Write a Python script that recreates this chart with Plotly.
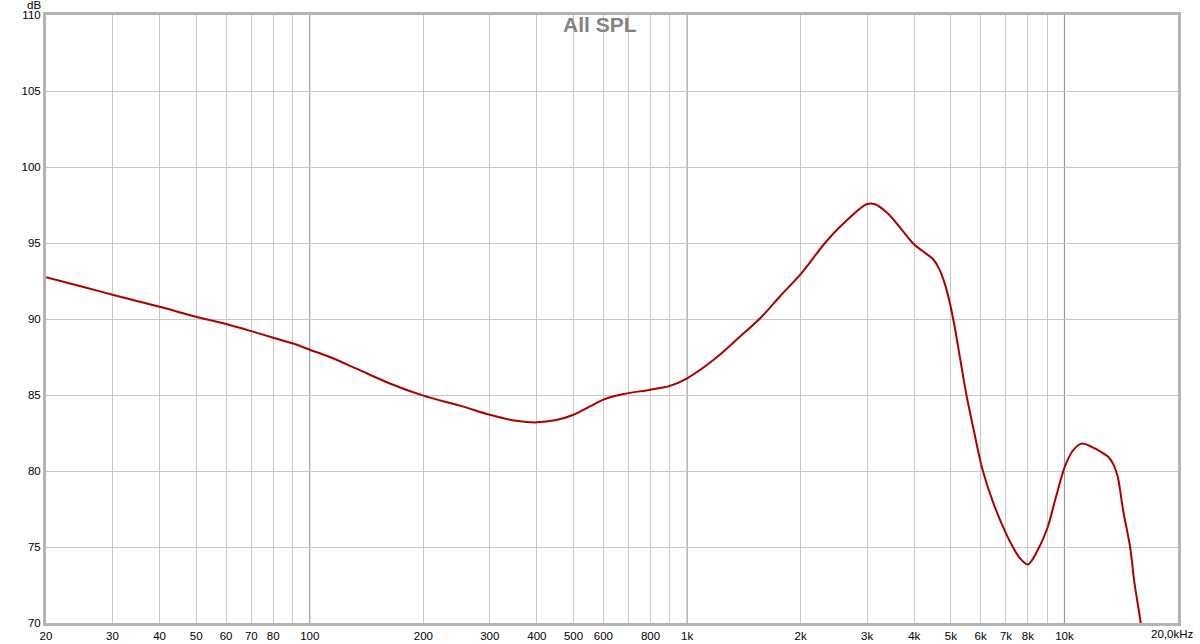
import plotly.graph_objects as go

# Frequency response data (Hz, dB)
freq_hz = [20, 25, 30, 40, 50, 60, 70, 80, 90, 100, 113, 133, 163, 200, 250, 300, 353, 400,
           450, 500, 553, 600, 678, 800, 900, 1000, 1174, 1382, 1565, 1764, 2000, 2320, 2600,
           3000, 3150, 3400, 3700, 4000, 4300, 4500, 4650, 4800, 4950, 5100, 5300, 5500, 5750,
           6050, 6500, 7000, 7300, 7600, 8000, 8500, 9000, 9500, 10000, 10500, 11100, 12000,
           12460, 13100, 13510, 13850, 14310, 14930, 15340, 15910, 16200]
spl_db = [92.75, 92.12, 91.6, 90.8, 90.15, 89.67, 89.2, 88.77, 88.4, 87.98, 87.5, 86.73, 85.76,
          84.96, 84.3, 83.7, 83.3, 83.2, 83.35, 83.7, 84.25, 84.7, 85.06, 85.35, 85.6, 86.1,
          87.3, 88.85, 90.07, 91.5, 92.95, 95.0, 96.3, 97.57, 97.55, 96.95, 95.9, 94.9, 94.3,
          93.9, 93.33, 92.46, 91.25, 89.7, 87.3, 85.0, 82.7, 80.2, 77.8, 75.9, 75.0, 74.3,
          73.85, 74.8, 76.2, 78.3, 80.2, 81.3, 81.8, 81.5, 81.27, 80.9, 80.39, 79.6, 77.4,
          75.0, 72.6, 70.1, 68.5]

title_text = "All SPL"
y_unit = "dB"

x_tick_vals = [20, 30, 40, 50, 60, 70, 80, 100, 200, 300, 400, 500, 600, 800, 1000,
               2000, 3000, 4000, 5000, 6000, 7000, 8000, 10000]
x_tick_text = ["20", "30", "40", "50", "60", "70", "80", "100", "200", "300", "400", "500",
               "600", "800", "1k", "2k", "3k", "4k", "5k", "6k", "7k", "8k", "10k"]
x_end_label = "20,0kHz"
x_grid_vals = [30, 40, 50, 60, 70, 80, 90, 200, 300, 400, 500, 600, 700, 800, 900,
               2000, 3000, 4000, 5000, 6000, 7000, 8000, 9000]
x_decades = [100, 1000, 10000]
y_tick_vals = [70, 75, 80, 85, 90, 95, 100, 105, 110]
y_tick_text = ["70", "75", "80", "85", "90", "95", "100", "105", "110"]

FONT = "Liberation Sans, Arial"

fig = go.Figure()
fig.add_trace(go.Scatter(
    x=freq_hz, y=spl_db, mode="lines",
    line=dict(color="#aa0000", width=2, shape="spline", smoothing=0.9),
    cliponaxis=True, showlegend=False,
))

for d in x_decades:
    fig.add_shape(type="line", xref="x", yref="paper", x0=d, x1=d, y0=0, y1=1,
                  line=dict(color="#8a8a8a", width=1), layer="below")

fig.update_xaxes(
    type="log", range=[1.30103, 4.30103], automargin=False,
    tickvals=x_tick_vals, ticktext=x_tick_text, showgrid=False,
    minor=dict(tickvals=x_grid_vals, showgrid=True, gridcolor="#c8c8c8", gridwidth=1, ticks=""),
    showline=True, linecolor="#b4b4b4", linewidth=3, mirror=True,
    ticks="", tickfont=dict(family=FONT, size=11.5, color="#000000"),
    zeroline=False,
)
fig.update_yaxes(
    range=[70, 110], tickvals=y_tick_vals, ticktext=y_tick_text, automargin=False,
    showgrid=True, gridcolor="#c8c8c8", gridwidth=1,
    showline=True, linecolor="#b4b4b4", linewidth=3, mirror=True,
    ticks="", tickfont=dict(family=FONT, size=11.5, color="#000000"),
    zeroline=False,
)

fig.add_annotation(text=f"<b>{title_text}</b>", xref="paper", yref="paper",
                   x=0.4894, y=0.9836, xanchor="center", yanchor="middle",
                   showarrow=False, font=dict(family=FONT, size=21, color="#828282"))
fig.add_annotation(text=y_unit, xref="paper", yref="paper",
                   x=-0.0102, y=1.0, xanchor="center", yanchor="middle", yshift=10,
                   borderpad=0, showarrow=False,
                   font=dict(family=FONT, size=11.5, color="#000000"))
fig.add_annotation(text=x_end_label, xref="paper", yref="paper",
                   x=0.9943, y=0.0, xanchor="center", yanchor="top", yshift=-3,
                   showarrow=False, font=dict(family=FONT, size=11.5, color="#000000"))

fig.update_layout(
    width=1200, height=644,
    margin=dict(l=46, r=22, t=15, b=21),
    paper_bgcolor="#ffffff", plot_bgcolor="#ffffff",
)

fig.write_html("out.html", config={"displayModeBar": False},
               post_script="document.body.style.margin='0';")
